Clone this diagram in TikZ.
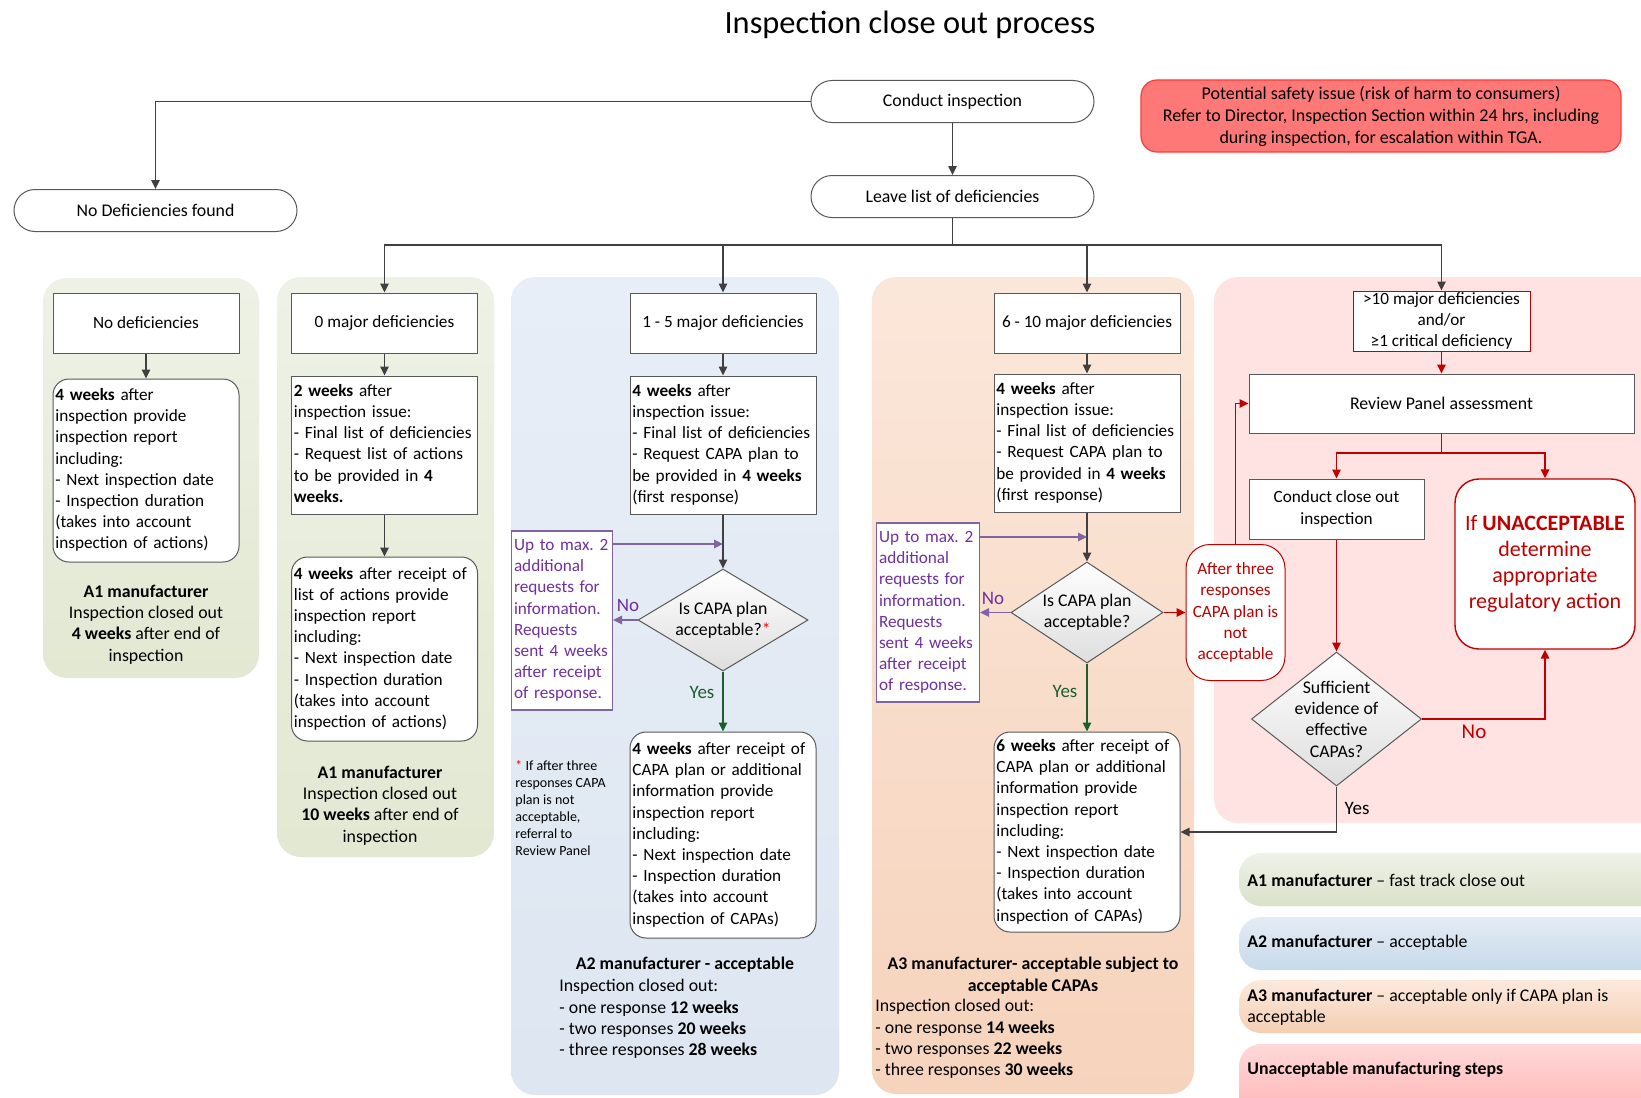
\documentclass[tikz,border=0pt]{standalone}
\usepackage{fontspec}
\setmainfont{Carlito}
\usetikzlibrary{arrows.meta,shapes.geometric}
\frenchspacing

\definecolor{linegray}{HTML}{404040}
\definecolor{boxgray}{HTML}{595959}
\definecolor{darkred}{HTML}{C00000}
\definecolor{purp}{HTML}{7030A0}
\definecolor{purpline}{HTML}{8064A2}
\definecolor{yesgreen}{HTML}{1D5E2E}
\definecolor{riskfill}{HTML}{FF7878}
\definecolor{riskline}{HTML}{FF3B3B}
\definecolor{aonetop}{HTML}{EEF2E6}
\definecolor{aonebot}{HTML}{E2E8D2}
\definecolor{atwotop}{HTML}{E8EEF7}
\definecolor{atwobot}{HTML}{DDE6F1}
\definecolor{athreetop}{HTML}{FBE7DA}
\definecolor{athreebot}{HTML}{F6D3BC}
\definecolor{unaccbg}{HTML}{FFE2E2}
\definecolor{keyonetop}{HTML}{EFF2E8}
\definecolor{keyonebot}{HTML}{D9E1C9}
\definecolor{keytwotop}{HTML}{E4ECF5}
\definecolor{keytwobot}{HTML}{C7D9EA}
\definecolor{keythreetop}{HTML}{FCE9DC}
\definecolor{keythreebot}{HTML}{F4CFB3}
\definecolor{keyfourtop}{HTML}{FFD8D8}
\definecolor{keyfourbot}{HTML}{FFB3B3}

\newcommand\bodyfont{\fontsize{8.9}{10.7}\selectfont}
\newcommand\boxfont{\fontsize{8.6}{10.6}\selectfont}
\newcommand\notefont{\fontsize{7}{8.5}\selectfont}
\newcommand\bigfont{\fontsize{11}{13}\selectfont}
% lines that never wrap
\newcommand\lns[1]{\begin{tabular}{@{}l@{}}#1\end{tabular}}

\tikzset{
	conn/.style={draw=linegray, line width=0.65pt},
	arr/.style={conn, -{Triangle[length=4.5pt,width=4.2pt]}},
	parr/.style={draw=purpline, line width=0.8pt, -{Triangle[length=4.5pt,width=4.2pt]}},
	garr/.style={draw=yesgreen, line width=0.8pt, -{Triangle[length=4.5pt,width=4.2pt]}},
	rline/.style={draw=darkred, line width=0.9pt},
	rarr/.style={rline, -{Triangle[length=4.5pt,width=4.2pt]}},
	colbg/.style={rounded corners=12pt},
	keybox/.style={rounded corners=11pt},
	txt/.style={inner sep=0pt},
	termbox/.style={draw=boxgray, line width=0.5pt, fill=white, rounded corners=10.5pt, minimum width=141.5pt, minimum height=21pt},
	boxbase/.style={draw=boxgray, line width=0.5pt, fill=white, font=\boxfont},
	midbox/.style={boxbase, align=center, inner sep=0pt, minimum width=93pt},
	stepbox/.style={boxbase, inner xsep=1.2pt, inner ysep=0pt, text width=90.6pt},
	reportbox/.style={stepbox, rounded corners=8pt},
	reqbox/.style={stepbox, draw=purpline, line width=0.6pt, text=purp, text width=48pt},
	decision/.style={diamond, draw=boxgray, line width=0.5pt, top color=white, bottom color=black!13, inner sep=0pt},
	riskbox/.style={draw=riskline, fill=riskfill, line width=0.6pt, rounded corners=8pt, minimum width=240pt, minimum height=36pt, align=center, inner sep=1pt, font=\fontsize{9}{11}\selectfont},
}

\begin{document}
\begin{tikzpicture}[x=0.5pt, y=-0.5pt, font=\bodyfont]
	%%%%% START %%%%%
	\clip (0, 0) rectangle (1641, 1097);
	\fill[white] (0, 0) rectangle (1641, 1097);
	
	% column backgrounds
	\path[colbg, top color=aonetop, bottom color=aonebot] (43, 278) rectangle (259, 678);
	\path[colbg, top color=aonetop, bottom color=aonebot] (277, 277) rectangle (494, 857);
	\path[colbg, top color=atwotop, bottom color=atwobot] (511, 277) rectangle (839, 1095);
	\path[colbg, top color=athreetop, bottom color=athreebot] (872, 277) rectangle (1194, 1094);
	\path[colbg, fill=unaccbg] (1214, 277) rectangle (1680, 823);
	
	% key
	\path[keybox, top color=keyonetop, bottom color=keyonebot] (1239, 853) rectangle (1680, 906);
	\path[keybox, top color=keytwotop, bottom color=keytwobot] (1239, 917) rectangle (1680, 970);
	\path[keybox, top color=keythreetop, bottom color=keythreebot] (1239, 980) rectangle (1680, 1033);
	\path[keybox, top color=keyfourtop, bottom color=keyfourbot] (1239, 1044) rectangle (1680, 1120);
	\node[txt, anchor=west] (keyone) at (1247, 880) {\textbf{A1 manufacturer} -- fast track close out};
	\node[txt, anchor=west] (keytwo) at (1247, 943) {\textbf{A2 manufacturer} -- acceptable};
	\node[txt, anchor=west, align=left] (keythree) at (1247, 1007) {\textbf{A3 manufacturer} -- acceptable only if CAPA plan is\\acceptable};
	\node[txt, anchor=west] (keyfour) at (1247, 1070) {\textbf{Unacceptable manufacturing steps}};
	
	% top
	\node[txt, font=\fontsize{16.2}{19}\selectfont] (title) at (910, 25) {Inspection close out process};
	\node[termbox] (conduct) at (952.5, 101.5) {Conduct inspection};
	\node[termbox] (leave) at (952.5, 196.5) {Leave list of deficiencies};
	\node[termbox] (nodefound) at (155.5, 210.5) {No Deficiencies found};
	\node[riskbox] (risk) at (1381, 116) {Potential safety issue (risk of harm to consumers)\\Refer to Director, Inspection Section within 24 hrs, including\\during inspection, for escalation within TGA.};
	
	% A1 fast track
	\node[midbox, minimum height=30pt] (nodef) at (146, 323) {No deficiencies};
	\node[reportbox, minimum height=91.5pt] (rep1) at (146, 470.5) {\lns{\textbf{4 weeks} after\\inspection provide\\inspection report\\including:\\- Next inspection date\\- Inspection duration\\(takes into account\\inspection of actions)}};
	\node[txt, align=center] (head1) at (146, 624.5) {\textbf{A1 manufacturer}\\Inspection closed out\\\textbf{4 weeks} after end of\\inspection};
	
	% A1 with actions
	\node[midbox, minimum height=30pt] (zero) at (384.5, 323) {0 major deficiencies};
	\node[stepbox, minimum height=69pt] (issue2) at (384.5, 445) {\lns{\textbf{2 weeks} after\\inspection issue:\\- Final list of deficiencies\\- Request list of actions\\to be provided in \textbf{4}\\\textbf{weeks.}}};
	\node[reportbox, minimum height=92pt] (rep2) at (384.5, 649) {\lns{\textbf{4 weeks} after receipt of\\list of actions provide\\inspection report\\including:\\- Next inspection date\\- Inspection duration\\(takes into account\\inspection of actions)}};
	\node[txt, align=center] (head2) at (380, 805.5) {\textbf{A1 manufacturer}\\Inspection closed out\\\textbf{10 weeks} after end of\\inspection};
	
	% A2
	\node[midbox, minimum height=30pt] (onefive) at (723, 323) {1 - 5 major deficiencies};
	\node[stepbox, minimum height=69pt] (issue3) at (723, 445) {\lns{\textbf{4 weeks} after\\inspection issue:\\- Final list of deficiencies\\- Request CAPA plan to\\be provided in \textbf{4 weeks}\\(first response)}};
	\node[reqbox, minimum height=89.5pt] (req3) at (562, 620.5) {\lns{Up to max. 2\\additional\\requests for\\information.\\Requests\\sent 4 weeks\\after receipt\\of response.}};
	\node[decision, minimum width=85pt, minimum height=51pt] (capa3) at (723, 620) {};
	\node[txt, align=center] (capa3t) at (capa3) {Is CAPA plan\\acceptable?\textcolor{red}{*}};
	\node[reportbox, minimum height=103pt] (final3) at (723, 835) {\lns{\textbf{4 weeks} after receipt of\\CAPA plan or additional\\information provide\\inspection report\\including:\\- Next inspection date\\- Inspection duration\\(takes into account\\inspection of CAPAs)}};
	\node[txt, anchor=north west, align=left, font=\notefont] (note3) at (515, 760) {\textcolor{red}{*} If after three\\responses CAPA\\plan is not\\acceptable,\\referral to\\Review Panel};
	\node[txt] (head3) at (685, 965) {\textbf{A2 manufacturer - acceptable}};
	\node[txt, anchor=west, align=left] (close3) at (559, 1019) {Inspection closed out:\\- one response \textbf{12 weeks}\\- two responses \textbf{20 weeks}\\- three responses \textbf{28 weeks}};
	\node[txt, text=purp, font=\fontsize{9.5}{11}\selectfont] (no3) at (628, 605) {No};
	\node[txt, text=yesgreen, font=\fontsize{9.5}{11}\selectfont] (yes3) at (702, 692) {Yes};
	
	% A3
	\node[midbox, minimum height=30pt] (sixten) at (1087, 323) {6 - 10 major deficiencies};
	\node[stepbox, minimum height=69pt] (issue4) at (1087, 443) {\lns{\textbf{4 weeks} after\\inspection issue:\\- Final list of deficiencies\\- Request CAPA plan to\\be provided in \textbf{4 weeks}\\(first response)}};
	\node[reqbox, text width=49pt, minimum height=89.5pt] (req4) at (928, 612.5) {\lns{Up to max. 2\\additional\\requests for\\information.\\Requests\\sent 4 weeks\\after receipt\\of response.}};
	\node[decision, minimum width=76pt, minimum height=50.5pt] (capa4) at (1087, 612.5) {};
	\node[txt, align=center] (capa4t) at (capa4) {Is CAPA plan\\acceptable?};
	\node[midbox, draw=darkred, text=darkred, rounded corners=12pt, minimum width=49.5pt, minimum height=68pt] (after4) at (1235.5, 612.5) {After three\\responses\\CAPA plan is\\not\\acceptable};
	\node[reportbox, minimum height=100pt] (final4) at (1087, 832) {\lns{\textbf{6 weeks} after receipt of\\CAPA plan or additional\\information provide\\inspection report\\including:\\- Next inspection date\\- Inspection duration\\(takes into account\\inspection of CAPAs)}};
	\node[txt, align=center] (head4) at (1033, 975.5) {\textbf{A3 manufacturer- acceptable subject to}\\\textbf{acceptable CAPAs}};
	\node[txt, anchor=west, align=left] (close4) at (875, 1039) {Inspection closed out:\\- one response \textbf{14 weeks}\\- two responses \textbf{22 weeks}\\- three responses \textbf{30 weeks}};
	\node[txt, text=purp, font=\fontsize{9.5}{11}\selectfont] (no4) at (993, 598) {No};
	\node[txt, text=yesgreen, font=\fontsize{9.5}{11}\selectfont] (yes4) at (1065, 691) {Yes};
	
	% unacceptable
	\node[midbox, draw=darkred, minimum width=88.5pt, minimum height=30pt] (over) at (1441.5, 321) {>10 major deficiencies\\and/or\\≥1 critical deficiency};
	\node[midbox, minimum width=192.5pt, minimum height=29.5pt, font=\bodyfont] (panel) at (1441.5, 403.5) {Review Panel assessment};
	\node[midbox, minimum width=87.5pt, minimum height=30pt] (closeout) at (1336.5, 509) {Conduct close out\\inspection};
	\node[midbox, draw=darkred, line width=0.7pt, text=darkred, rounded corners=12pt, minimum width=90pt, minimum height=85pt, font=\bigfont] (unacc) at (1545, 564) {If \textbf{UNACCEPTABLE}\\determine\\appropriate\\regulatory action};
	\node[decision, minimum width=85pt, minimum height=67pt] (suff) at (1336.5, 719) {};
	\node[txt, align=center] (sufft) at (suff) {Sufficient\\evidence of\\effective\\CAPAs?};
	\node[txt, text=darkred, font=\fontsize{10.5}{12}\selectfont] (no5) at (1474, 732) {No};
	\node[txt, font=\fontsize{9.5}{11}\selectfont] (yes5) at (1357, 808) {Yes};
	
	% connectors
	\coordinate (split) at (952.5, 245);
	\coordinate (in3) at (723, 544);
	\coordinate (in4) at (1087, 537);
	\coordinate (pb) at (1441.5, 453);
	
	\draw[arr] (conduct.west) -| (nodefound.north);
	\draw[arr] (conduct.south) -- (leave.north);
	\draw[conn] (leave.south) -- (split);
	\foreach \n in {zero, onefive, sixten, over}
		\draw[arr] (split) -| (\n.north);
	
	\draw[arr] (nodef.south) -- (rep1.north);
	\draw[arr] (zero.south) -- (issue2.north);
	\draw[arr] (issue2.south) -- (rep2.north);
	
	\draw[arr] (onefive.south) -- (issue3.north);
	\draw[arr] (issue3.south) -- (capa3.north);
	\draw[parr] (req3.east |- in3) -- (in3);
	\draw[parr] (capa3.west) -- (capa3.west -| req3.east);
	\draw[garr] (capa3.south) -- (final3.north);
	
	\draw[arr] (sixten.south) -- (issue4.north);
	\draw[arr] (issue4.south) -- (capa4.north);
	\draw[parr] (req4.east |- in4) -- (in4);
	\draw[parr] (capa4.west) -- (capa4.west -| req4.east);
	\draw[garr] (capa4.south) -- (final4.north);
	\draw[rarr] (capa4.east) -- (after4.west);
	
	\draw[rarr] (after4.north) |- (panel.west);
	\draw[rarr] (over.south) -- (panel.north);
	\draw[rline] (panel.south) -- (pb);
	\draw[rarr] (pb) -| (closeout.north);
	\draw[rarr] (pb) -| (unacc.north);
	\draw[rarr] (closeout.south) -- (suff.north);
	\draw[rarr] (suff.east) -| (unacc.south);
	\draw[arr] (suff.south) |- (final4.east);
	%%%%% END %%%%%
\end{tikzpicture}
\end{document}
